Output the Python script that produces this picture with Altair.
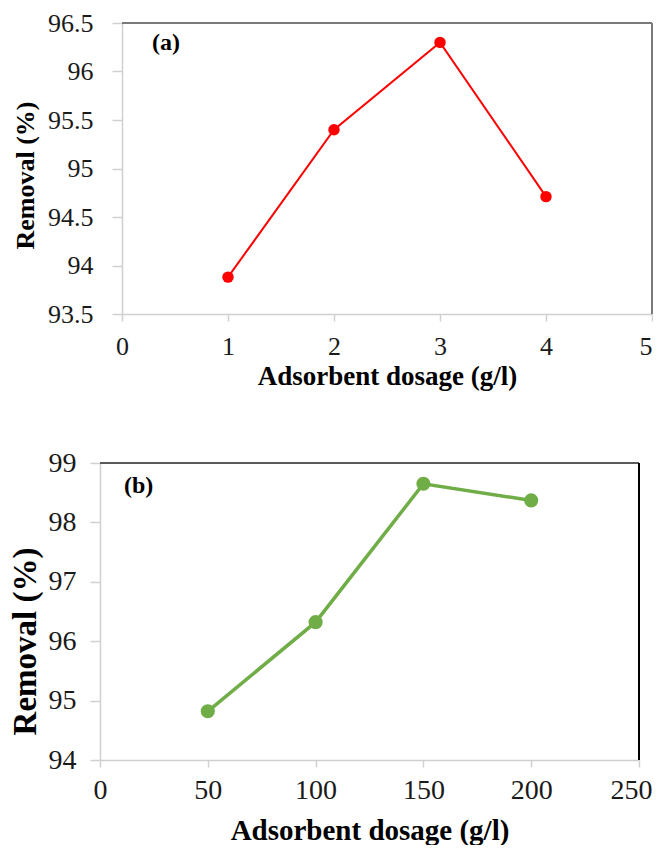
import altair as alt
import pandas as pd

# Panel (a)
a_x = [1, 2, 3, 4]
a_y = [93.88, 95.40, 96.30, 94.71]
a_xticks = [0, 1, 2, 3, 4, 5]
a_yticks = [93.5, 94, 94.5, 95, 95.5, 96, 96.5]

# Panel (b)
b_x = [50, 100, 150, 200]
b_y = [94.82, 96.32, 98.65, 98.37]
b_xticks = [0, 50, 100, 150, 200, 250]
b_yticks = [94, 95, 96, 97, 98, 99]

x_title = "Adsorbent dosage (g/l)"
y_title = "Removal (%)"
FONT = "Liberation Serif"
AXC = "#d0d0d0"
TXT = "#1a1a1a"

one = pd.DataFrame({"d": [0]})


def panel(xs, ys, xticks, yticks, W, H, shift, color, lw, msize, lab, lab_x, lab_y,
          lfs, tfs, ytfs, y_fmt, ax_cfg, top_col, right_col, title_y):
    df = pd.DataFrame({"x": xs, "y": ys})
    last = xticks[-1]
    xsc = alt.Scale(domain=[xticks[0], last], nice=False, zero=False, range=[shift, W])
    ysc = alt.Scale(domain=[yticks[0], yticks[-1]], nice=False, zero=False)
    xax = alt.Axis(values=xticks, title=x_title, grid=False, domainColor=AXC, domainWidth=1.5,
                   tickColor=AXC, tickWidth=1.5, tickSize=ax_cfg["xts"], labelPadding=ax_cfg["xlp"],
                   labelFont=FONT, labelFontSize=lfs, labelColor=TXT, titleFont=FONT,
                   titleFontSize=tfs, titleFontWeight="bold", titleColor="#000",
                   titlePadding=ax_cfg["xtp"], labelFlush=False, labelOverlap=False,
                   labelAlign={"condition": {"test": f"datum.value === {last}", "value": "right"},
                               "value": "center"},
                   labelOffset={"condition": {"test": f"datum.value === {last}", "value": ax_cfg["lo"]},
                                "value": 0})
    ykw = dict(values=yticks, title=y_title, grid=False, domainColor=AXC, domainWidth=1.5,
               tickColor=AXC, tickWidth=1.5, tickSize=ax_cfg["yts"], labelPadding=ax_cfg["ylp"],
               labelFont=FONT, labelFontSize=lfs, labelColor=TXT, titleFont=FONT,
               titleFontSize=ytfs, titleFontWeight="bold", titleColor="#000",
               titleX=ax_cfg["tx"], titleY=title_y, format=y_fmt, labelAlign="right",
               labelFlush=False, labelOverlap=False)
    if shift:
        ykw["offset"] = -shift
    yax = alt.Axis(**ykw)
    base = alt.Chart(df).encode(x=alt.X("x:Q", scale=xsc, axis=xax), y=alt.Y("y:Q", scale=ysc, axis=yax))
    line = base.mark_line(color=color, strokeWidth=lw)
    pts = base.mark_point(filled=True, color=color, size=msize, opacity=1, shape="circle")
    top = alt.Chart(one).mark_rule(color=top_col, strokeWidth=2).encode(
        x=alt.value(shift), x2=alt.value(W), y=alt.value(0))
    right = alt.Chart(one).mark_rule(color=right_col, strokeWidth=2).encode(
        x=alt.value(W), y=alt.value(0), y2=alt.value(H))
    txt = alt.Chart(one).mark_text(text=lab, font=FONT, fontWeight="bold", fontSize=24,
                                   align="left", baseline="middle", color="#000").encode(
        x=alt.value(shift + lab_x), y=alt.value(lab_y))
    return alt.layer(line, pts, top, right, txt).properties(width=W, height=H)


pa = panel(a_x, a_y, a_xticks, a_yticks, 552, 291, 22, "#FF0000", 2, 130, "(a)", 30, 20,
           26, 27, 26, ".1~f",
           dict(xts=7, xlp=12, xtp=4, yts=10, ylp=19, tx=-84, lo=0), "#7a7a7a", "#7a7a7a", 152)
pb = panel(b_x, b_y, b_xticks, b_yticks, 539, 297, 0, "#70AD47", 3.5, 200, "(b)", 24, 23,
           28, 29, 33, "d",
           dict(xts=7, xlp=9, xtp=12, yts=10, ylp=14, tx=-58, lo=13), "#5a5a5a", "#000000", 178)

chart = alt.vconcat(pa, pb, spacing=60).resolve_scale(x="independent", y="independent").properties(
    padding={"left": 1, "top": 2, "right": 0, "bottom": 0}
).configure_view(stroke=None).configure_axis(labelFont=FONT, titleFont=FONT)

chart.save("out.html", embed_options={"renderer": "svg", "actions": False})
